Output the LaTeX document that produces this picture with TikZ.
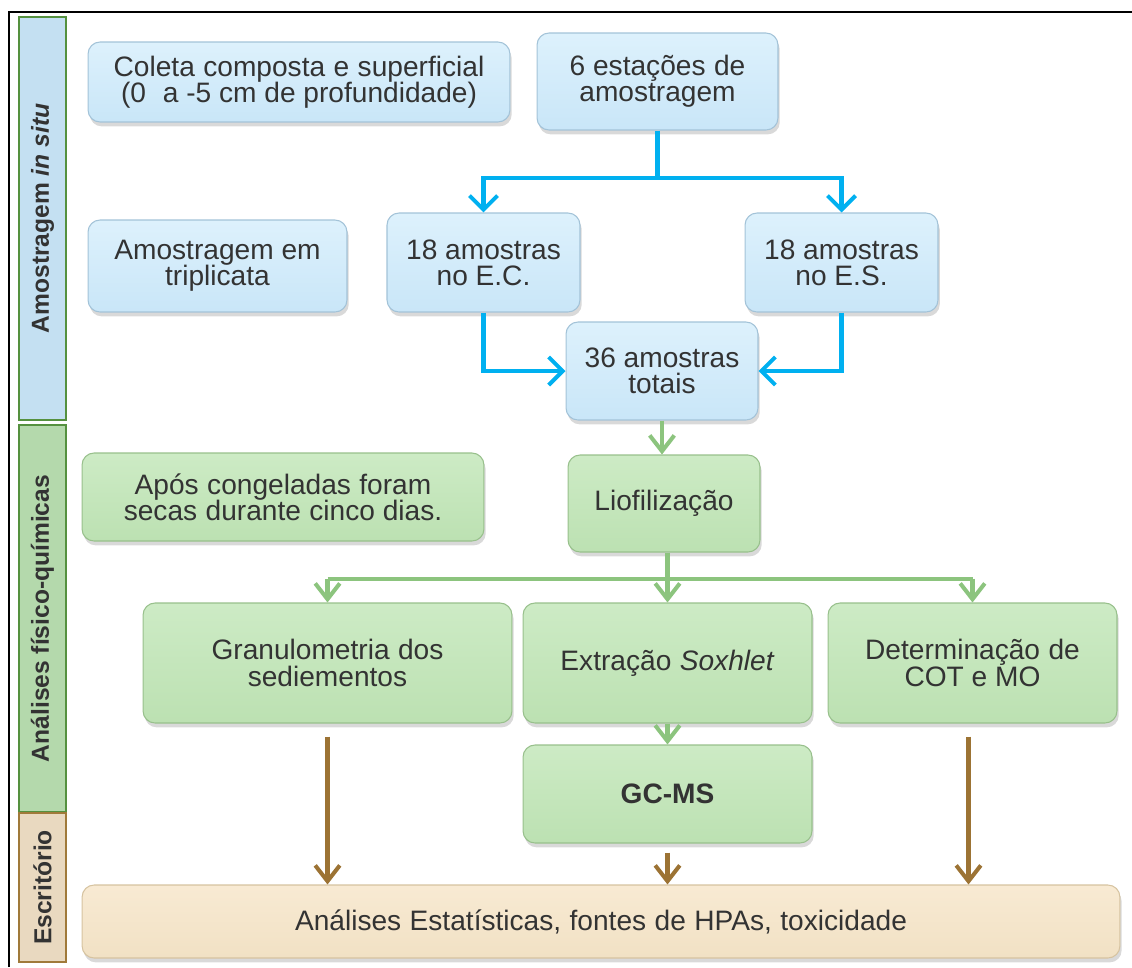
\documentclass[tikz,border=0pt]{standalone}
\usepackage{fontspec}
\setmainfont{Liberation Sans}
\usetikzlibrary{arrows.meta,shadows}
\definecolor{txt}{HTML}{333333}
\definecolor{bluetop}{HTML}{DDF1FC}
\definecolor{bluebot}{HTML}{C9E6F8}
\definecolor{blueedge}{HTML}{A3C3D8}
\definecolor{greentop}{HTML}{CDEBC5}
\definecolor{greenbot}{HTML}{BCE1B2}
\definecolor{greenedge}{HTML}{98C08C}
\definecolor{tantop}{HTML}{F8EAD3}
\definecolor{tanbot}{HTML}{F1E1C4}
\definecolor{tanedge}{HTML}{D6C3A0}
\definecolor{bandblue}{HTML}{C4E0F2}
\definecolor{bandgreen}{HTML}{B4D9AC}
\definecolor{bandtan}{HTML}{E9D9C0}
\definecolor{bandgreenedge}{HTML}{55913F}
\definecolor{bandtanedge}{HTML}{A07A3A}
\definecolor{arblue}{HTML}{00B0F0}
\definecolor{argreen}{HTML}{8CC47E}
\definecolor{arbrown}{HTML}{9C7334}
\newcommand{\wsp}{\hspace{0.3em}}
\begin{document}
\begin{tikzpicture}[x=0.02cm,y=-0.02cm,
  box/.style={rounded corners=0.24cm, align=center, inner sep=0pt, line width=0.6pt,
    font=\fontsize{16}{15}\selectfont, text=txt,
    drop shadow={shadow xshift=1pt, shadow yshift=-2.5pt, opacity=0.3}},
  bluebox/.style={box, top color=bluetop, bottom color=bluebot, draw=blueedge},
  greenbox/.style={box, top color=greentop, bottom color=greenbot, draw=greenedge},
  tanbox/.style={box, top color=tantop, bottom color=tanbot, draw=tanedge},
  band/.style={rotate=90, inner sep=0pt, line width=1pt, minimum height=0.94cm,
    font=\fontsize{14}{16}\selectfont\bfseries, text=txt},
  barrow/.style={draw=arblue, line width=2.3pt, -{Straight Barb[length=8pt,width=16pt]}},
  bline/.style={draw=arblue, line width=2.3pt},
  garrow/.style={draw=argreen, line width=2.3pt, -{Straight Barb[length=9pt,width=14pt]}},
  gline/.style={draw=argreen, line width=2.3pt},
  brarrow/.style={draw=arbrown, line width=2.3pt, -{Straight Barb[length=9pt,width=14pt]}}
]
\useasboundingbox (0,0) rectangle (1132,967);
% outer frame
\draw[line width=1.4pt] (9,967) -- (9,12) -- (1132,12);

% side bands
\node[band, fill=bandblue, draw=bandgreenedge, minimum width=8.06cm] (sb1) at (42.5,218.5) {Amostragem \textit{in situ}};
\node[band, fill=bandgreen, draw=bandgreenedge, minimum width=7.74cm] (sb2) at (42.5,618.5) {Análises físico-químicas};
\node[band, fill=bandtan, draw=bandtanedge, minimum width=2.98cm] (sb3) at (42.5,887.5) {Escritório};

% blue boxes
\node[bluebox, minimum width=8.44cm, minimum height=1.6cm] (coleta) at (299,82)
  {Coleta\wsp composta\wsp e\wsp superficial\\(0\wsp\wsp a -5 cm de profundidade)};
\node[bluebox, minimum width=4.82cm, minimum height=1.94cm] (est) at (657.5,81.5)
  {6 estações\wsp de\\amostragem};
\node[bluebox, minimum width=5.18cm, minimum height=1.84cm] (trip) at (217.5,266)
  {Amostragem em\\triplicata};
\node[bluebox, minimum width=3.86cm, minimum height=1.98cm] (ec) at (483.5,262.5)
  {18 amostras\\no E.C.};
\node[bluebox, minimum width=3.86cm, minimum height=1.98cm] (es) at (841.5,262.5)
  {18 amostras\\no E.S.};
\node[bluebox, minimum width=3.84cm, minimum height=1.96cm] (tot) at (662,371)
  {36 amostras\\totais};

% green boxes
\node[greenbox, minimum width=8.04cm, minimum height=1.76cm] (apos) at (283,497)
  {Após\wsp congeladas\wsp foram\\secas\wsp durante\wsp cinco dias.};
\node[greenbox, minimum width=3.84cm, minimum height=1.94cm] (lio) at (664,503.5)
  {Liofilização};
\node[greenbox, minimum width=7.38cm, minimum height=2.4cm] (gran) at (327.5,663)
  {Granulometria\wsp dos\\sediementos};
\node[greenbox, minimum width=5.78cm, minimum height=2.4cm] (extr) at (667.5,663)
  {Extração\wsp \textit{Soxhlet}};
\node[greenbox, minimum width=5.78cm, minimum height=2.4cm] (det) at (972.5,663)
  {Determinação\wsp de\\COT e MO};
\node[greenbox, minimum width=5.78cm, minimum height=1.96cm, font=\fontsize{16}{15}\selectfont\bfseries] (gc) at (667.5,794)
  {GC-MS};

% tan box
\node[tanbox, minimum width=20.76cm, minimum height=1.46cm] (anal) at (601,921.5)
  {Análises\wsp Estatísticas,\wsp fontes\wsp de\wsp HPAs,\wsp toxicidade};

% blue connectors
\path (est.south) ++(0,47) coordinate (b1);
\draw[bline] (est.south) -- (b1);
\draw[barrow] (b1) -| (ec.north);
\draw[barrow] (b1) -| (es.north);
\draw[barrow] (ec.south) |- (tot.west);
\draw[barrow] (es.south) |- (tot.east);

% green connectors
\draw[garrow] (tot.south) -- (tot.south |- lio.north);
\path (lio.south -| extr.north) ++(0,26) coordinate (g1);
\draw[gline] (g1 -| gran.north) -- (g1 -| det.north);
\draw[garrow] (lio.south -| extr.north) -- (extr.north);
\draw[garrow] (g1 -| gran.north) -- (gran.north);
\draw[garrow] (g1 -| det.north) -- (det.north);
\draw[garrow] (extr.south) -- (gc.north);

% brown connectors
\path (gran.south) ++(0,13) coordinate (r1);
\path (det.south) ++(-4,13) coordinate (r3);
\path (gc.south) ++(0,9) coordinate (r2);
\draw[brarrow] (r1) -- (r1 |- anal.north);
\draw[brarrow] (r2) -- (r2 |- anal.north);
\draw[brarrow] (r3) -- (r3 |- anal.north);
\end{tikzpicture}
\end{document}
